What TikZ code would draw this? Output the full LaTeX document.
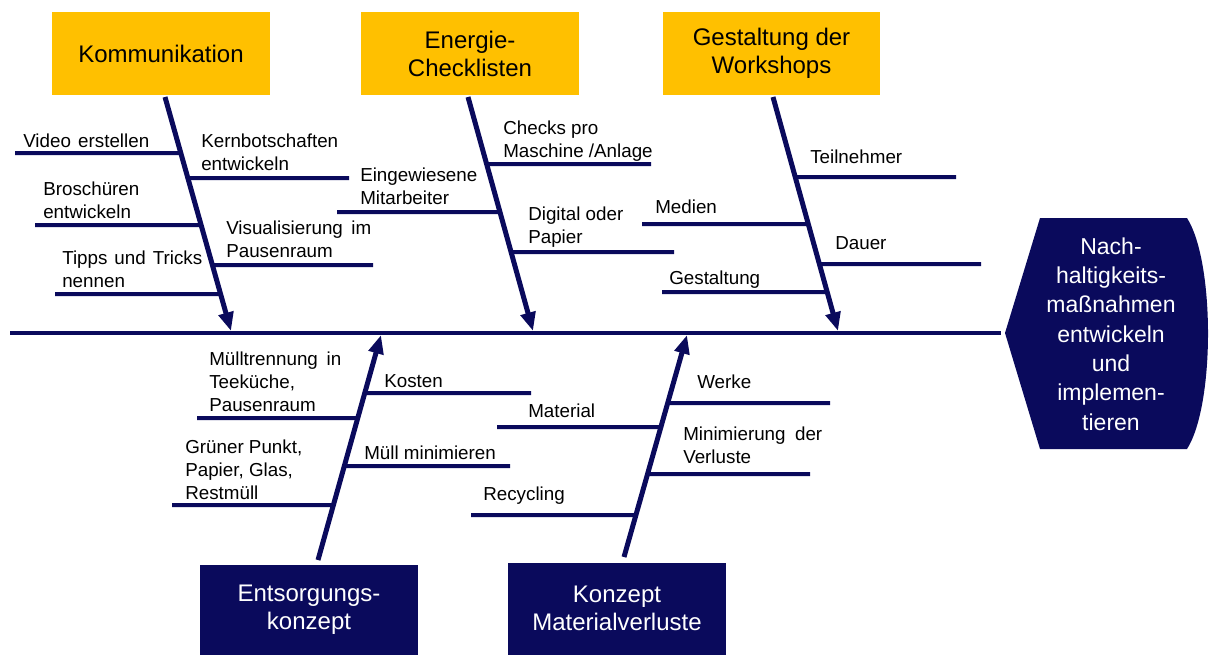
\documentclass[tikz,border=0pt]{standalone}
\usepackage{fontspec}
\setmainfont{Liberation Sans}
\usetikzlibrary{arrows.meta}
\definecolor{navy}{HTML}{0A0A5C}
\definecolor{amber}{HTML}{FFC000}
\tikzset{
  cause/.style={fill=amber, text=black, inner sep=0pt, align=center,
    minimum width=163pt, minimum height=62.25pt,
    font=\fontsize{18}{21}\selectfont},
  causeB/.style={fill=navy, text=white, inner sep=0pt, align=center,
    minimum width=163pt, minimum height=67.5pt,
    font=\fontsize{18}{21}\selectfont},
  bone/.style={draw=navy, line width=3.75pt,
    -{Triangle[length=14pt,width=11pt]}},
  spine/.style={draw=navy, line width=3.2pt},
  rib/.style={draw=navy, line width=3pt},
  % labels are placed by the baseline of their last line
  lbl/.style={anchor=base west, inner sep=0pt, align=left,
    font=\fontsize{14.1}{16.9}\selectfont},
}
\begin{document}
\begin{tikzpicture}[x=0.75pt,y=-0.75pt]
\useasboundingbox (0,0) rectangle (1209,654);

% effect head
\fill[navy] (1005,333) -- (1040,218) -- (1187,218)
  .. controls (1215,262) and (1215,405) .. (1187,449)
  -- (1040,449) -- cycle;
\coordinate (headTip) at (1005,333);
\node[text=white, align=center, inner sep=0pt,
  font=\fontsize{17.25}{22}\selectfont] (head) at (1111,334)
  {Nach-\\haltigkeits-\\maßnahmen\\entwickeln\\und\\implemen-\\tieren};

% spine
\coordinate (spineL) at (10,333);
\draw[spine] (spineL) -- ([xshift=-3pt]headTip);

% category boxes
\node[cause] (kom) at (161,53.5) {Kommunikation};
\node[cause] (ene) at (470,53.5) {Energie-\\Checklisten};
\node[cause] (ges) at (771.5,53.5) {Gestaltung der\\Workshops};
\node[causeB] (ent) at (309,609.5) {Entsorgungs-\\konzept};
\node[causeB, minimum height=69pt] (mat) at (617,608.5) {Konzept\\Materialverluste};

% main bones
\coordinate (kTop) at (165,97);  \coordinate (kTip) at (231,331);
\coordinate (eTop) at (468,97);  \coordinate (eTip) at (533,331);
\coordinate (gTop) at (773,97);  \coordinate (gTip) at (838,331);
\coordinate (nBot) at (318,560); \coordinate (nTip) at (381,335);
\coordinate (mBot) at (624,557); \coordinate (mTip) at (687,335);
\draw[bone] (kTop) -- (kTip);
\draw[bone] (eTop) -- (eTip);
\draw[bone] (gTop) -- (gTip);
\draw[bone] (nBot) -- (nTip);
\draw[bone] (mBot) -- (mTip);

% Kommunikation ribs
\coordinate (k1) at (intersection of kTop--kTip and 0,153--1,153);
\coordinate (k1e) at (15,153);
\draw[rib] (k1e) -- (k1);
\node[lbl] (tk1) at (23,147) {\makebox[94.5pt][s]{Video erstellen}};
\coordinate (k2) at (intersection of kTop--kTip and 0,178--1,178);
\coordinate (k2e) at (349,178);
\draw[rib] (k2) -- (k2e);
\node[lbl] (tk2) at (201,170) {Kernbotschaften\\entwickeln};
\coordinate (k3) at (intersection of kTop--kTip and 0,225--1,225);
\coordinate (k3e) at (35,225);
\draw[rib] (k3e) -- (k3);
\node[lbl] (tk3) at (43,218) {Broschüren\\entwickeln};
\coordinate (k4) at (intersection of kTop--kTip and 0,265--1,265);
\coordinate (k4e) at (373,265);
\draw[rib] (k4) -- (k4e);
\node[lbl] (tk4) at (226,257) {\makebox[108.75pt][s]{Visualisierung im}\\Pausenraum};
\coordinate (k5) at (intersection of kTop--kTip and 0,294--1,294);
\coordinate (k5e) at (55,294);
\draw[rib] (k5e) -- (k5);
\node[lbl] (tk5) at (62,287) {\makebox[105pt][s]{Tipps und Tricks}\\nennen};

% Energie-Checklisten ribs
\coordinate (e1) at (intersection of eTop--eTip and 0,164--1,164);
\coordinate (e1e) at (651,164);
\draw[rib] (e1) -- (e1e);
\node[lbl] (te1) at (503,157) {Checks pro\\Maschine /Anlage};
\coordinate (e2) at (intersection of eTop--eTip and 0,212--1,212);
\coordinate (e2e) at (337,212);
\draw[rib] (e2e) -- (e2);
\node[lbl] (te2) at (360,204) {Eingewiesene\\Mitarbeiter};
\coordinate (e3) at (intersection of eTop--eTip and 0,252--1,252);
\coordinate (e3e) at (674,252);
\draw[rib] (e3) -- (e3e);
\node[lbl] (te3) at (528,243) {Digital oder\\Papier};

% Workshop ribs
\coordinate (g1) at (intersection of gTop--gTip and 0,177--1,177);
\coordinate (g1e) at (956,177);
\draw[rib] (g1) -- (g1e);
\node[lbl] (tg1) at (810,163) {Teilnehmer};
\coordinate (g2) at (intersection of gTop--gTip and 0,224--1,224);
\coordinate (g2e) at (642,224);
\draw[rib] (g2e) -- (g2);
\node[lbl] (tg2) at (655,213) {Medien};
\coordinate (g3) at (intersection of gTop--gTip and 0,264--1,264);
\coordinate (g3e) at (981,264);
\draw[rib] (g3) -- (g3e);
\node[lbl] (tg3) at (835,249) {Dauer};
\coordinate (g4) at (intersection of gTop--gTip and 0,292--1,292);
\coordinate (g4e) at (662,292);
\draw[rib] (g4e) -- (g4);
\node[lbl] (tg4) at (669,284) {Gestaltung};

% Entsorgungskonzept ribs
\coordinate (n1) at (intersection of nBot--nTip and 0,393--1,393);
\coordinate (n1e) at (531,393);
\draw[rib] (n1) -- (n1e);
\node[lbl] (tn1) at (384,387) {Kosten};
\coordinate (n2) at (intersection of nBot--nTip and 0,418--1,418);
\coordinate (n2e) at (197,418);
\draw[rib] (n2e) -- (n2);
\node[lbl] (tn2) at (209,411) {\makebox[99pt][s]{Mülltrennung in}\\Teeküche,\\Pausenraum};
\coordinate (n3) at (intersection of nBot--nTip and 0,466--1,466);
\coordinate (n3e) at (510,466);
\draw[rib] (n3) -- (n3e);
\node[lbl] (tn3) at (364,459) {Müll minimieren};
\coordinate (n4) at (intersection of nBot--nTip and 0,505--1,505);
\coordinate (n4e) at (172,505);
\draw[rib] (n4e) -- (n4);
\node[lbl] (tn4) at (185,499) {Grüner Punkt,\\Papier, Glas,\\Restmüll};

% Materialverluste ribs
\coordinate (m1) at (intersection of mBot--mTip and 0,403--1,403);
\coordinate (m1e) at (830,403);
\draw[rib] (m1) -- (m1e);
\node[lbl] (tm1) at (697,388) {Werke};
\coordinate (m2) at (intersection of mBot--mTip and 0,427--1,427);
\coordinate (m2e) at (497,427);
\draw[rib] (m2e) -- (m2);
\node[lbl] (tm2) at (528,417) {Material};
\coordinate (m3) at (intersection of mBot--mTip and 0,474--1,474);
\coordinate (m3e) at (810,474);
\draw[rib] (m3) -- (m3e);
\node[lbl] (tm3) at (683,463) {\makebox[104.25pt][s]{Minimierung der}\\Verluste};
\coordinate (m4) at (intersection of mBot--mTip and 0,515--1,515);
\coordinate (m4e) at (471,515);
\draw[rib] (m4e) -- (m4);
\node[lbl] (tm4) at (483,500) {Recycling};
\end{tikzpicture}
\end{document}
